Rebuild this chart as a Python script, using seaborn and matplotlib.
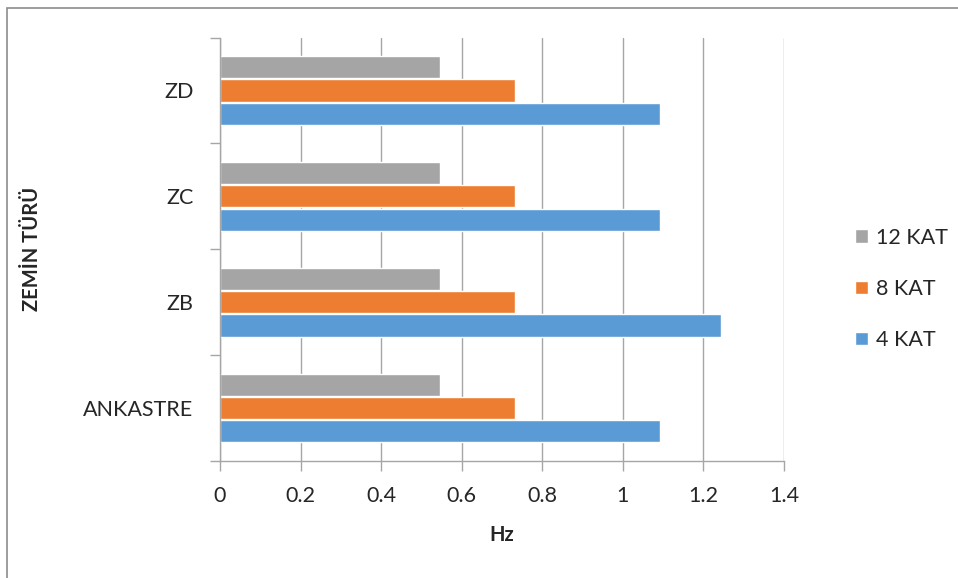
import numpy as np
import pandas as pd
import matplotlib
matplotlib.use("Agg")
import matplotlib.pyplot as plt
import seaborn as sns
from matplotlib.patches import Rectangle

zeminler = ["ZD", "ZC", "ZB", "ANKASTRE"]
katlar = ["12 KAT", "8 KAT", "4 KAT"]
kat12 = [0.547, 0.547, 0.547, 0.547]
kat8 = [0.733, 0.733, 0.733, 0.733]
kat4 = [1.093, 1.093, 1.243, 1.093]
renkler = ["#A5A5A5", "#ED7D31", "#5B9BD5"]
xticks = [0, 0.2, 0.4, 0.6, 0.8, 1, 1.2, 1.4]

rows = []
for kat, vals in zip(katlar, [kat12, kat8, kat4]):
    for z, v in zip(zeminler, vals):
        rows.append({"zemin": z, "kat": kat, "hz": v})
df = pd.DataFrame(rows)

sns.set_style("white")
plt.rcParams["font.family"] = ["Lato", "DejaVu Sans"]

fig = plt.figure(figsize=(9.58, 5.78), dpi=100)
ax = fig.add_axes([220 / 958, 1 - 461 / 578, 564 / 958, 423.5 / 578])

sns.barplot(data=df, y="zemin", x="hz", hue="kat", order=zeminler,
            hue_order=katlar, palette=renkler, orient="h",
            width=0.66, gap=0.05, saturation=1, ax=ax, legend=True)

ax.set_xlim(0, 1.4)
ax.set_ylim(3.5, -0.5)
ax.set_xticks(xticks)
ax.set_xticklabels(["0", "0.2", "0.4", "0.6", "0.8", "1", "1.2", "1.4"])
ax.xaxis.grid(True, color="#a6a6a6", linewidth=1)
ax.yaxis.grid(False)
ax.set_axisbelow(True)

ax.set_yticks(np.arange(-0.5, 4, 1), minor=True)
ax.tick_params(axis="y", which="major", length=0, pad=19, labelsize=15.5)
ax.tick_params(axis="y", which="minor", length=7, color="#a6a6a6", width=1,
               direction="out", left=True)
ax.tick_params(axis="x", which="major", length=7, color="#a6a6a6", width=1,
               direction="out", bottom=True, pad=11, labelsize=15.5)

for s in ["top", "right"]:
    ax.spines[s].set_visible(False)
for s in ["left", "bottom"]:
    ax.spines[s].set_color("#a6a6a6")
    ax.spines[s].set_linewidth(1)

ax.set_xlabel("Hz", fontsize=14.5, fontweight="bold", labelpad=14)
ax.set_ylabel("ZEMİN TÜRÜ", fontsize=14.5, fontweight="bold")
ax.yaxis.set_label_coords(-0.315, 0.5)

ax.legend(loc="center left", bbox_to_anchor=(836 / 958, 0.5),
          bbox_transform=fig.transFigure, frameon=False, fontsize=15.5,
          handlelength=0.6, handleheight=0.6, handletextpad=0.35,
          labelspacing=1.45, title=None)

fig.patches.append(Rectangle((7 / 958, -0.1), 1.2, 1 - 8 / 578 + 0.1,
                             transform=fig.transFigure, fill=False,
                             edgecolor="#8c8c8c", linewidth=1.2))

fig.savefig("out.png", dpi=100)
